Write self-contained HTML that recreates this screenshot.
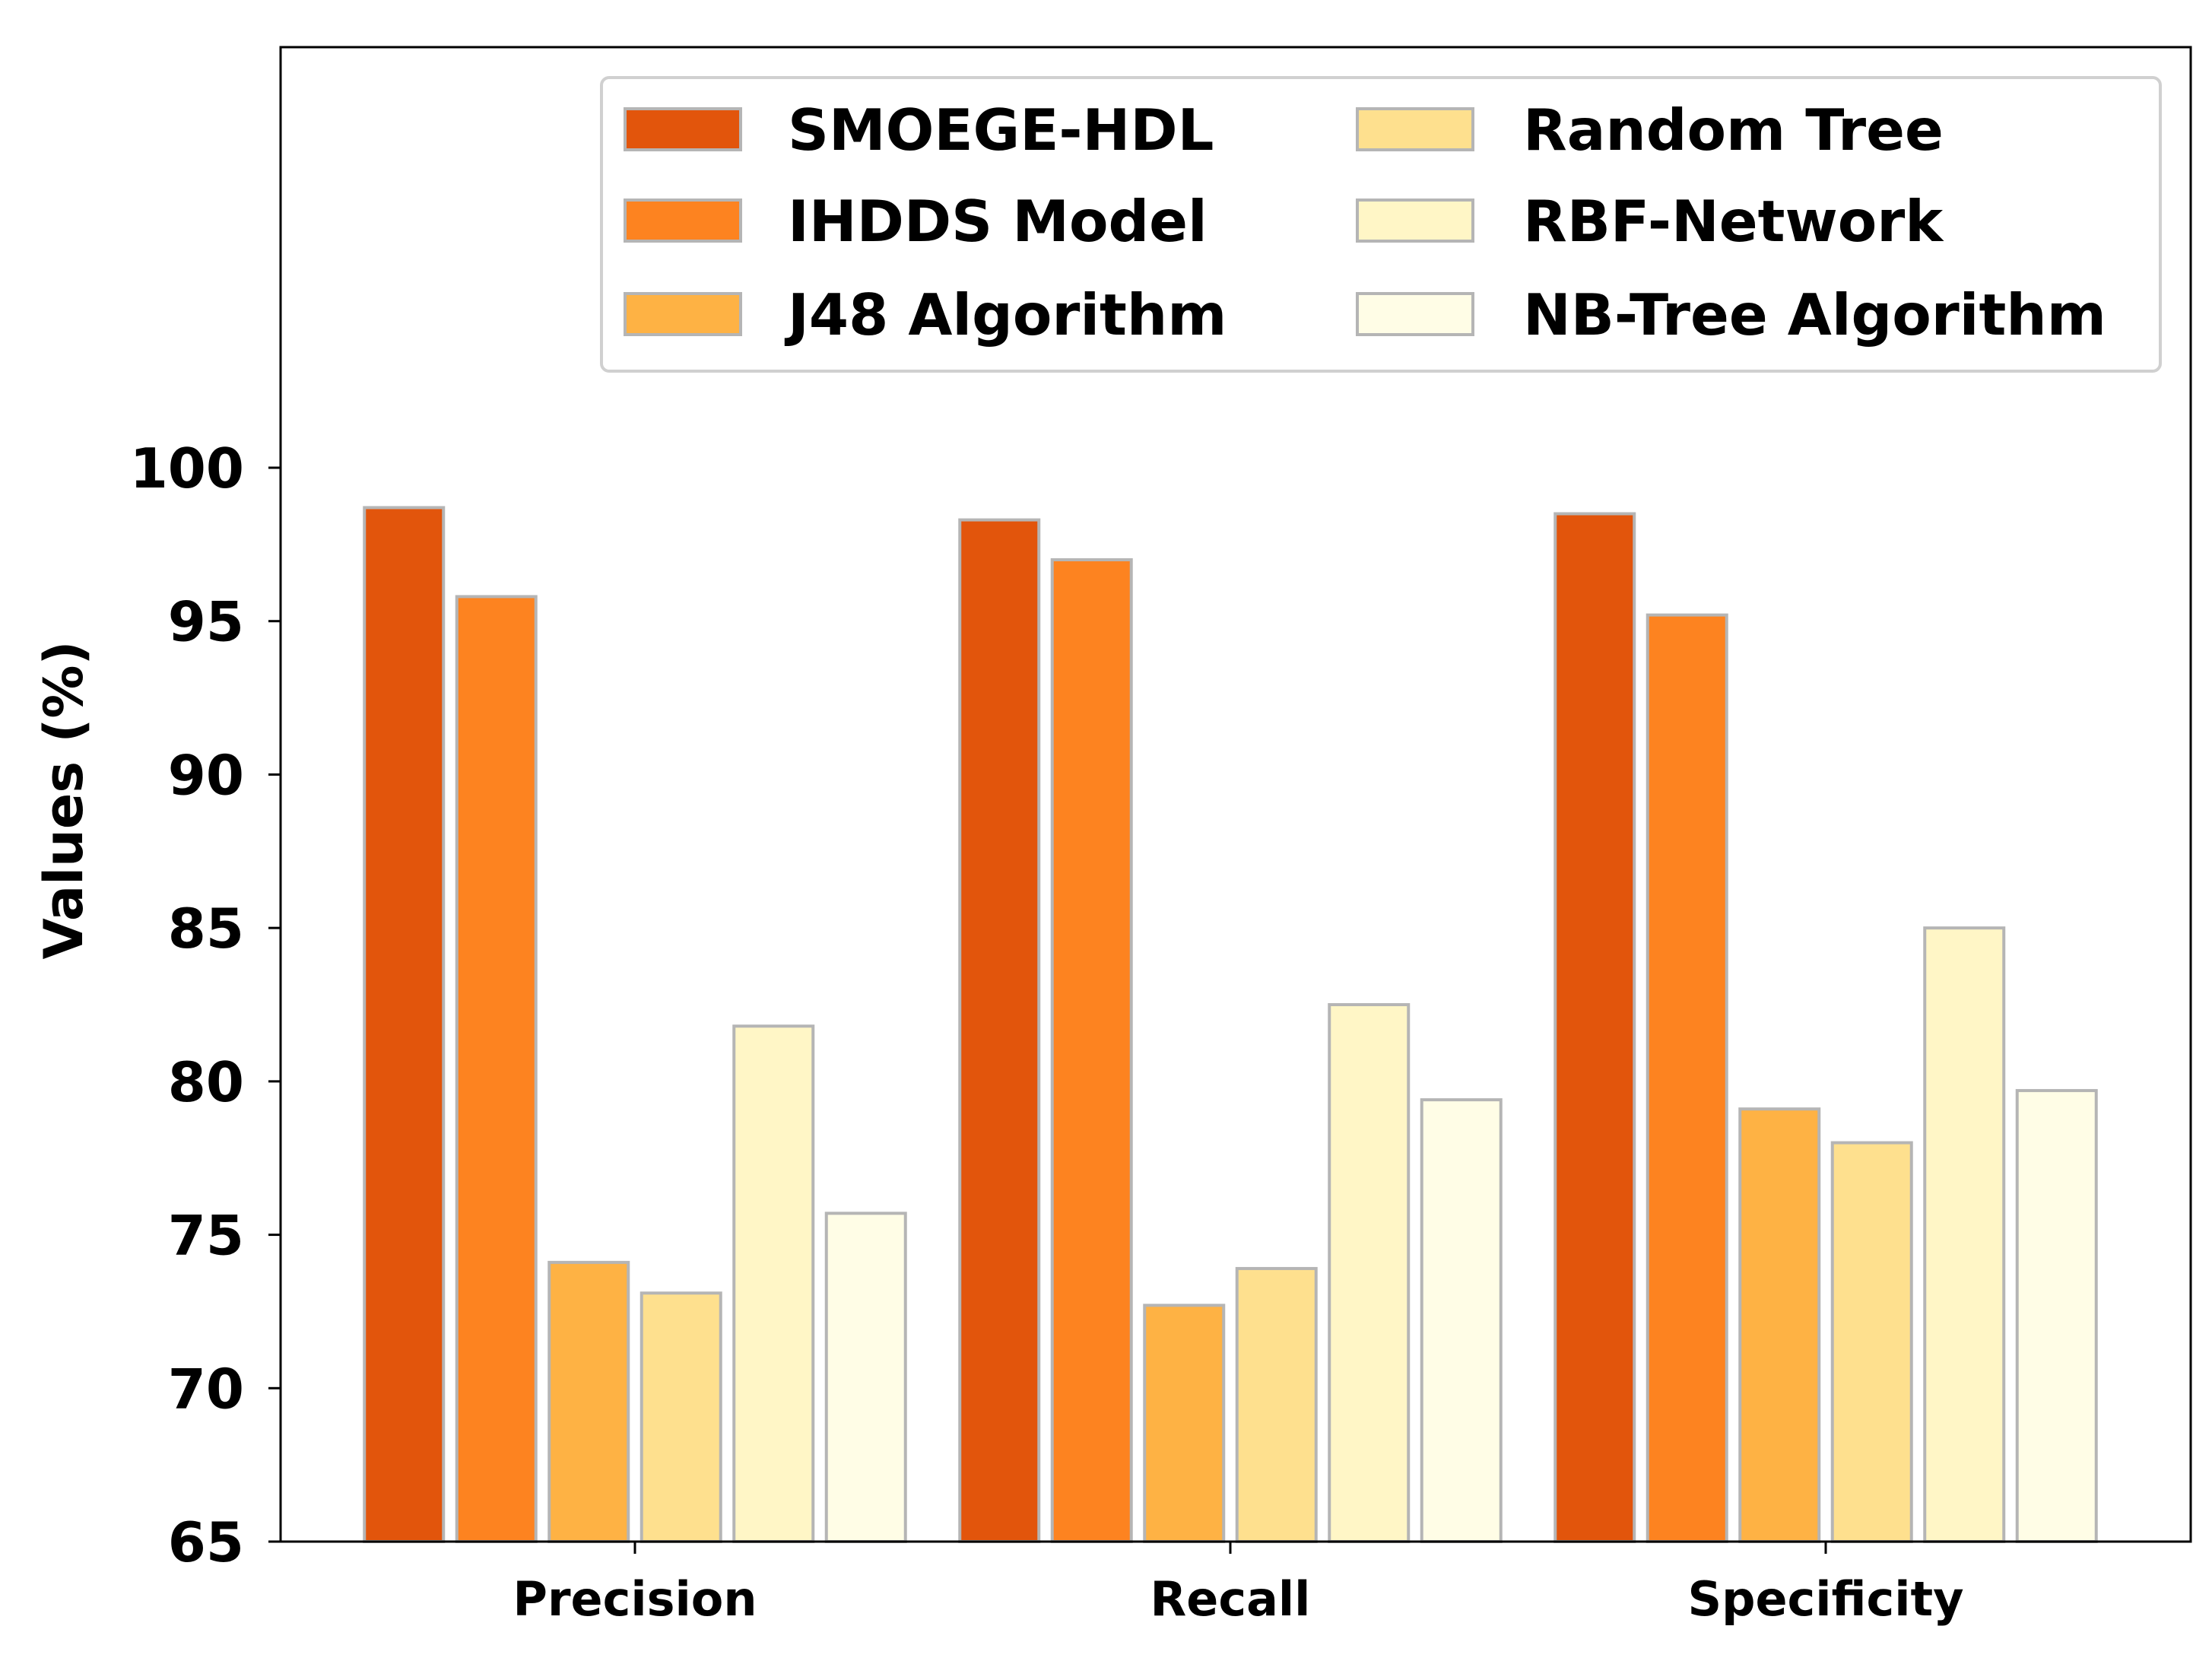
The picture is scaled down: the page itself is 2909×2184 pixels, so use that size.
<!DOCTYPE html>
<html><head><meta charset="utf-8"><style>
html,body{margin:0;padding:0;background:#fff}
svg{display:block}
text{font-family:"DejaVu Sans","Liberation Sans",sans-serif;font-weight:bold;fill:#000}
</style></head><body>
<svg id="chart" width="2909" height="2184" viewBox="0 0 2909 2184" xmlns="http://www.w3.org/2000/svg">
<rect x="0" y="0" width="2909" height="2184" fill="#fff"/>
<g id="bars"></g>
<g id="axes"></g>
<g id="legend"></g>
</svg>
<script>
const categories = ["Precision", "Recall", "Specificity"];
const seriesNames = ["SMOEGE-HDL", "IHDDS Model", "J48 Algorithm", "Random Tree", "RBF-Network", "NB-Tree Algorithm"];
const smoegeHdl = [98.7, 98.3, 98.5];
const ihdds = [95.8, 97.0, 95.2];
const j48 = [74.1, 72.7, 79.1];
const randomTree = [73.1, 73.9, 78.0];
const rbfNetwork = [81.8, 82.5, 85.0];
const nbTree = [75.7, 79.4, 79.7];
const yTicks = [65, 70, 75, 80, 85, 90, 95, 100];

const series = [smoegeHdl, ihdds, j48, randomTree, rbfNetwork, nbTree];
const colors = ["#e2550c", "#fd8320", "#feb244", "#fee08e", "#fff6c6", "#fffde6"];
const NS = "http://www.w3.org/2000/svg";
const L = 369, R = 2881, T = 62, B = 2027;
const yMin = 65, yMax = 100, yTopPx = 615;
function y(v){ return B - (v - yMin) * (B - yTopPx) / (yMax - yMin); }
const groupCenters0 = 835, groupStep = 783;
function x(ci){ return groupCenters0 + ci * groupStep; }
const barStep = 121.5, barW = 104;
function mk(tag, attrs, parent){ const e = document.createElementNS(NS, tag); for (const k in attrs) e.setAttribute(k, attrs[k]); parent.appendChild(e); return e; }

const gb = document.getElementById('bars');
series.forEach((vals, si) => {
  vals.forEach((v, ci) => {
    const cx = x(ci) + (si - 2.5) * barStep;
    const r = mk('rect', {x: cx - barW/2, y: y(v), width: barW, height: B - y(v), fill: colors[si], stroke: "#b5b5b5", "stroke-width": 4}, gb);
    
    
  });
});

const ga = document.getElementById('axes');
const frame = mk('rect', {x: L, y: T, width: R - L, height: B - T, fill: "none", stroke: "#000", "stroke-width": 3}, ga);


yTicks.forEach(t => {
  mk('line', {x1: L - 16, x2: L, y1: y(t), y2: y(t), stroke: "#000", "stroke-width": 3}, ga);
  const tx = mk('text', {x: 321, y: y(t) + 26, "text-anchor": "end", "font-size": 72}, ga);
  tx.textContent = t;
  
  
});
categories.forEach((c, ci) => {
  mk('line', {x1: x(ci), x2: x(ci), y1: B, y2: B + 16, stroke: "#000", "stroke-width": 3}, ga);
  const tx = mk('text', {x: x(ci), y: 2124, "text-anchor": "middle", "font-size": 62}, ga);
  tx.textContent = c;
  
  
});
const yl = mk('text', {x: 0, y: 0, "text-anchor": "middle", "font-size": 70, transform: "translate(108,1052) rotate(-90)"}, ga);
yl.textContent = "Values (%)";



const gl = document.getElementById('legend');
const lb = mk('rect', {x: 791, y: 102, width: 2050, height: 386, rx: 10, fill: "#fff", stroke: "#d0d0d0", "stroke-width": 4}, gl);


const rowsY = [170, 290, 413];
seriesNames.forEach((n, i) => {
  const col = Math.floor(i / 3), row = i % 3;
  const px = col === 0 ? 822 : 1785, tx0 = col === 0 ? 1036 : 2003;
  const p = mk('rect', {x: px, y: rowsY[row] - 27, width: 152, height: 54, fill: colors[i], stroke: "#b5b5b5", "stroke-width": 4}, gl);
  
  
  const t = mk('text', {x: tx0, y: rowsY[row] + 27, "font-size": 75}, gl);
  t.textContent = n;
  
  
});
</script>
</body></html>
